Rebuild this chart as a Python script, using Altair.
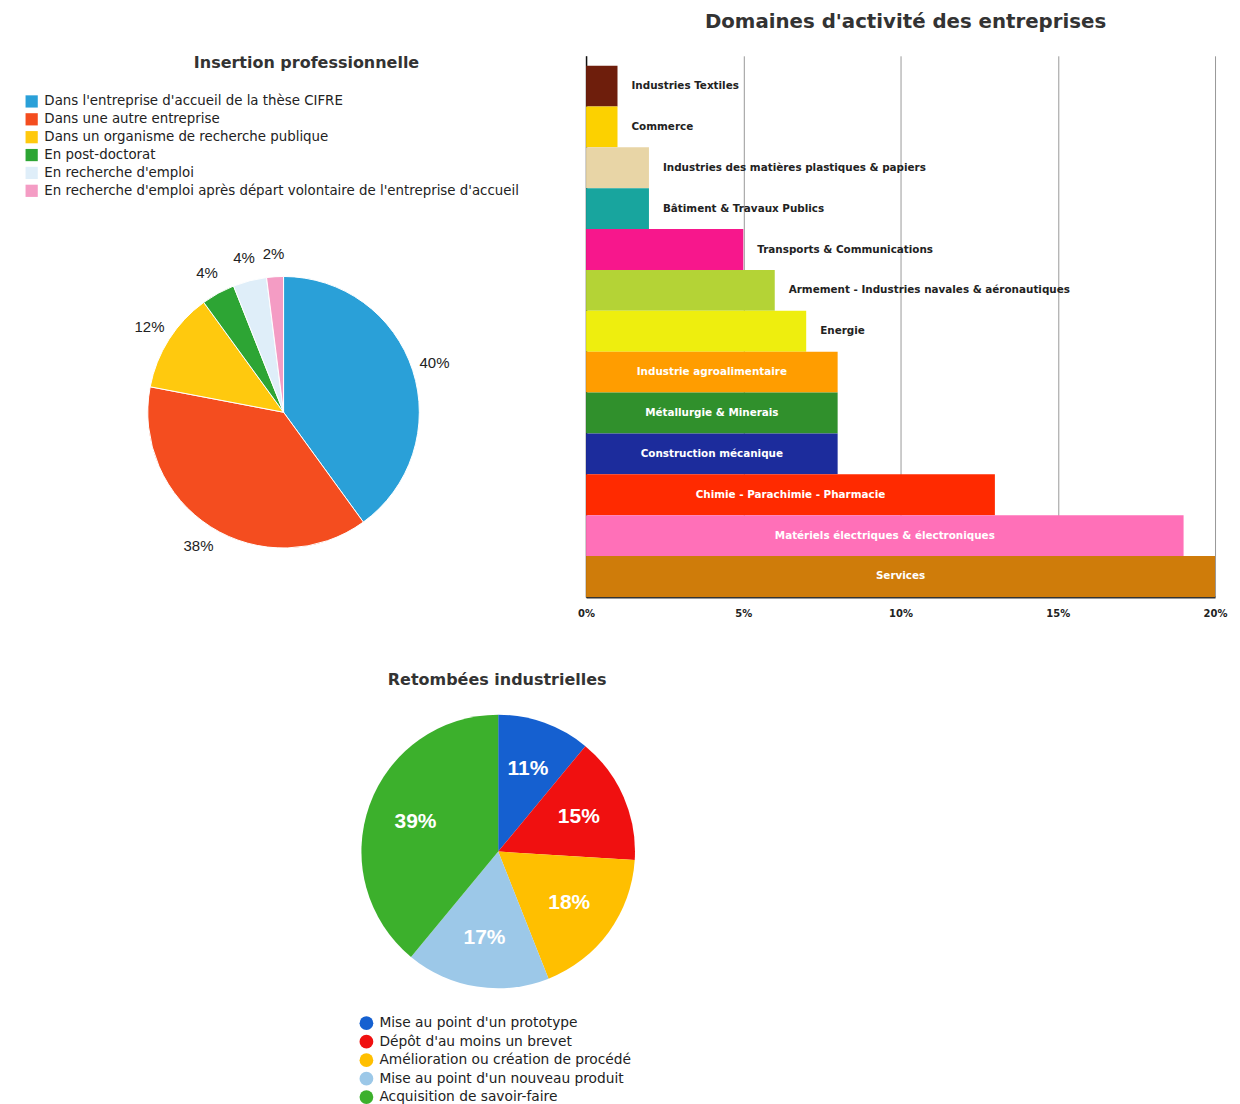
import altair as alt
import pandas as pd

FONT = "Liberation Sans"
WFONT = "DejaVu Sans"

# ---------------- data ----------------
ins_labels = [
    "Dans l'entreprise d'accueil de la thèse CIFRE",
    "Dans une autre entreprise",
    "Dans un organisme de recherche publique",
    "En post-doctorat",
    "En recherche d'emploi",
    "En recherche d'emploi après départ volontaire de l'entreprise d'accueil",
]
ins_values = [40, 38, 12, 4, 4, 2]
ins_colors = ["#2aa0d8", "#f44d1f", "#ffc90e", "#2da534", "#dfeef9", "#f49cc4"]

dom_labels = [
    "Industries Textiles",
    "Commerce",
    "Industries des matières plastiques & papiers",
    "Bâtiment & Travaux Publics",
    "Transports & Communications",
    "Armement - Industries navales & aéronautiques",
    "Energie",
    "Industrie agroalimentaire",
    "Métallurgie & Minerais",
    "Construction mécanique",
    "Chimie - Parachimie - Pharmacie",
    "Matériels électriques & électroniques",
    "Services",
]
dom_values = [1, 1, 2, 2, 5, 6, 7, 8, 8, 8, 13, 19, 20]
dom_inside = [0, 0, 0, 0, 0, 0, 0, 1, 1, 1, 1, 1, 1]
dom_colors = ["#6e1e0c", "#fcd100", "#e8d5a6", "#18a59e", "#f7178c", "#b4d336",
              "#eeee0e", "#ff9d00", "#30902c", "#1c2c9c", "#ff2a00", "#ff70b8", "#cf7c0a"]
dom_ticks = [0, 5, 10, 15, 20]

ret_labels = [
    "Mise au point d'un prototype",
    "Dépôt d'au moins un brevet",
    "Amélioration ou création de procédé",
    "Mise au point d'un nouveau produit",
    "Acquisition de savoir-faire",
]
ret_values = [11, 15, 18, 17, 39]
ret_colors = ["#1560d0", "#f01010", "#ffbf00", "#9cc8e8", "#3cb02c"]

ins_df = pd.DataFrame({"cat1": ins_labels, "val": ins_values, "idx": range(len(ins_labels))})
dom_df = pd.DataFrame({"cat": dom_labels, "val": dom_values, "inside": dom_inside})
ret_df = pd.DataFrame({"cat3": ret_labels, "val": ret_values, "idx": range(len(ret_labels))})

# ---------------- left pie ----------------
L_W, L_H = 560, 542
cx1, cy1 = 276, 357

base1 = alt.Chart(ins_df).transform_calculate(lbl="datum.val + '%'").encode(
    theta=alt.Theta("val:Q", stack=True),
    order=alt.Order("idx:Q"),
)
arc1 = base1.mark_arc(outerRadius=136, stroke="white", strokeWidth=1).encode(
    x=alt.value(cx1), y=alt.value(cy1),
    color=alt.Color(
        "cat1:N",
        scale=alt.Scale(domain=ins_labels, range=ins_colors),
        legend=alt.Legend(
            orient="none", legendX=17, legendY=39, title=None,
            symbolType="square", symbolSize=150, symbolStrokeWidth=0,
            labelFontSize=13.4, labelColor="#222", labelFont=WFONT,
            labelLimit=700, rowPadding=2.9, labelOffset=6,
        ),
    ),
)
txt1 = base1.mark_text(radius=159, fontSize=15, color="#222", font=FONT).encode(
    x=alt.value(cx1), y=alt.value(cy1), text="lbl:N"
)
left = alt.layer(arc1, txt1).properties(
    width=L_W, height=L_H,
    title=alt.Title("Insertion professionnelle", fontSize=16, font=WFONT, fontWeight="bold",
                    color="#333", anchor="middle", frame="group", dx=19, dy=28,
                    offset=0, baseline="alphabetic"),
)

# ---------------- bar chart ----------------
R_W, R_H = 630, 542
ybar = alt.Y("cat:N", sort=None,
             scale=alt.Scale(paddingInner=0, paddingOuter=0.12, align=1),
             axis=alt.Axis(labels=False, ticks=False, title=None, grid=False,
                           domainColor="#111", domainWidth=1.5))
xscale = alt.Scale(domain=[0, 20], nice=False)
xaxis = alt.Axis(values=dom_ticks, labelExpr="datum.value + '%'", title=None, ticks=False,
                 grid=True, gridColor="#999", gridWidth=1, domainColor="#333",
                 domainWidth=2, labelFontWeight="bold", labelFontSize=10,
                 labelColor="#222", labelPadding=12, labelFlush=False, labelFont=WFONT)

bbase = alt.Chart(dom_df)
bars = bbase.mark_bar().encode(
    x=alt.X("val:Q", scale=xscale, axis=xaxis),
    y=ybar,
    color=alt.Color("cat:N", scale=alt.Scale(domain=dom_labels, range=dom_colors), legend=None),
)
out_txt = bbase.transform_filter("datum.inside == 0").mark_text(
    align="left", dx=14, fontSize=10.4, fontWeight="bold", color="#222", font=WFONT
).encode(x=alt.X("val:Q", scale=xscale), y=ybar, text="cat:N")
in_txt = bbase.transform_filter("datum.inside == 1").transform_calculate(
    mid="datum.val / 2"
).mark_text(align="center", fontSize=10.4, fontWeight="bold", color="white", font=WFONT).encode(
    x=alt.X("mid:Q", scale=xscale), y=ybar, text="cat:N"
)
right = alt.layer(bars, out_txt, in_txt).properties(
    width=R_W, height=R_H,
    title=alt.Title("Domaines d'activité des entreprises", fontSize=19.8, font=WFONT,
                    fontWeight="bold", color="#333", anchor="middle", frame="group",
                    dx=5, offset=8, baseline="alphabetic"),
)

# ---------------- bottom pie ----------------
B_W, B_H = 560, 392
cx3, cy3 = 491, 151
base3 = alt.Chart(ret_df).transform_calculate(lbl="datum.val + '%'").encode(
    theta=alt.Theta("val:Q", stack=True),
    order=alt.Order("idx:Q"),
)
arc3 = base3.mark_arc(outerRadius=137).encode(
    x=alt.value(cx3), y=alt.value(cy3),
    color=alt.Color(
        "cat3:N",
        scale=alt.Scale(domain=ret_labels, range=ret_colors),
        legend=alt.Legend(
            orient="none", legendX=352, legendY=316, title=None,
            symbolType="circle", symbolSize=190, symbolStrokeWidth=0,
            labelFontSize=13.8, labelColor="#222", labelFont=WFONT,
            labelLimit=700, rowPadding=4.5, labelOffset=6,
        ),
    ),
)
txt3 = base3.mark_text(radius=88, fontSize=21, fontWeight="bold", color="white", font=FONT).encode(
    x=alt.value(cx3), y=alt.value(cy3), text="lbl:N"
)
bottom = alt.layer(arc3, txt3).properties(
    width=B_W, height=B_H,
    title=alt.Title("Retombées industrielles", fontSize=16, font=WFONT, fontWeight="bold",
                    color="#333", anchor="middle", frame="group", dx=210, offset=0,
                    baseline="alphabetic"),
)

top = alt.hconcat(left, right, spacing=19, bounds="flush").resolve_scale(
    color="independent", theta="independent")
chart = alt.vconcat(top, bottom, spacing=53, bounds="full").resolve_scale(
    color="independent", theta="independent"
).properties(
    padding={"left": 0, "top": 3, "right": 5, "bottom": 0}
).configure(font=FONT).configure_view(strokeWidth=0)

chart.save("out.html", embed_options={"renderer": "svg", "actions": False})
